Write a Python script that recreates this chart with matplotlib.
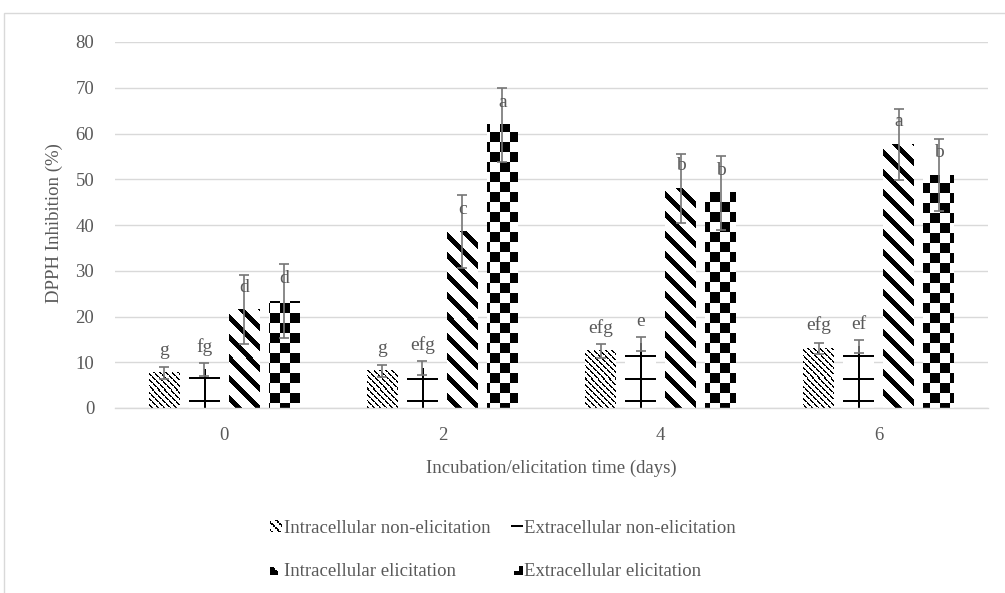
import numpy as np
import matplotlib
matplotlib.use("Agg")
import matplotlib.pyplot as plt
from matplotlib.legend_handler import HandlerBase
from matplotlib.image import BboxImage
from matplotlib.transforms import Bbox, TransformedBbox
from matplotlib.patches import Rectangle, Patch

# data
days = ["0", "2", "4", "6"]
series_names = ["Intracellular non-elicitation", "Extracellular non-elicitation",
                "Intracellular elicitation", "Extracellular elicitation"]

intra_non = [7.7, 8.1, 12.5, 13.0]
intra_non_err = [1.3, 1.3, 1.5, 1.3]
intra_non_lab = ["g", "g", "efg", "efg"]

extra_non = [8.4, 8.7, 14.0, 13.4]
extra_non_err = [1.4, 1.5, 1.6, 1.4]
extra_non_lab = ["fg", "efg", "e", "ef"]

intra_el = [21.5, 38.5, 48.0, 57.6]
intra_el_err = [7.6, 8.0, 7.5, 7.7]
intra_el_lab = ["d", "c", "b", "a"]

extra_el = [23.3, 61.9, 47.0, 50.9]
extra_el_err = [8.1, 8.1, 8.0, 7.9]
extra_el_lab = ["d", "a", "b", "b"]

GRAY_TXT = "#595959"
GRID = "#d9d9d9"
ERR = "#767676"

plt.rcParams["font.family"] = ["Liberation Serif", "DejaVu Serif"]
FS = 13.5


# pixel patterns (X, Y are display pixel coordinates, Y upwards)
def pat_fine(X, Y, xc=0):
    return ((X + Y) % 6 < 2) & ((X - Y) % 8 != 0)


def pat_grid(X, Y, xc=0):
    return ((Y - GRID_Y0) % 22 < 2) | (np.abs(X - xc) < 1)


def pat_stripe(X, Y, xc=0):
    return (X + Y) % 20 < 7


def pat_checker(X, Y, xc=0):
    return (X // 10 + Y // 10) % 2 == 0


patterns = [pat_fine, pat_grid, pat_stripe, pat_checker]


def to_rgba(mask):
    img = np.ones(mask.shape + (4,))
    img[mask, :3] = 0.0
    return img


fig = plt.figure(figsize=(10.05, 5.93), dpi=100)
ax = fig.add_axes([115 / 1005, 1 - 408 / 593, 873 / 1005, 366 / 593])
ax.set_xlim(-0.5, 3.5)
ax.set_ylim(0, 80)

GRID_Y0 = ax.transData.transform((0, 1.2))[1]

values = [intra_non, extra_non, intra_el, extra_el]
errors = [intra_non_err, extra_non_err, intra_el_err, extra_el_err]
labels = [intra_non_lab, extra_non_lab, intra_el_lab, extra_el_lab]

x = np.arange(len(days))
step = 0.183
width = 0.142

for i, (vals, errs, labs) in enumerate(zip(values, errors, labels)):
    xs = x + (i - 1.5) * step
    bars = ax.bar(xs, vals, width, color="white", edgecolor="none", zorder=2)
    for b in bars:
        (px0, py0), (px1, py1) = ax.transData.transform(
            [(b.get_x(), 0), (b.get_x() + b.get_width(), b.get_height())])
        cols = np.arange(int(round(px0)), int(round(px1)))
        rows = np.arange(int(round(py0)), int(round(py1)))
        X, Y = np.meshgrid(cols, rows)
        xc = 0.5 * (px0 + px1)
        img = to_rgba(patterns[i](X, Y, xc))
        ax.imshow(img, extent=(b.get_x(), b.get_x() + b.get_width(), 0, b.get_height()),
                  origin="lower", interpolation="nearest", aspect="auto", zorder=2.5)
    ax.errorbar(xs, vals, yerr=errs, fmt="none", ecolor=ERR, elinewidth=1.2,
                capsize=3.6, capthick=1.2, zorder=3)
    for xi, v, t in zip(xs, vals, labs):
        ax.annotate(t, (xi, v), xytext=(0, 13), textcoords="offset points",
                    ha="center", va="baseline", fontsize=FS + 0.5, color=GRAY_TXT, zorder=4)

ax.set_xlim(-0.5, 3.5)
ax.set_ylim(0, 80)
ax.set_xticks(x)
ax.set_xticklabels(days)
ax.set_yticks(np.arange(0, 81, 10))
ax.yaxis.grid(True, color=GRID, linewidth=1)
ax.set_axisbelow(True)
for s in ["top", "right", "left"]:
    ax.spines[s].set_visible(False)
ax.spines["bottom"].set_color(GRID)
ax.spines["bottom"].set_linewidth(1)
ax.tick_params(length=0, labelsize=FS, labelcolor=GRAY_TXT)
ax.tick_params(axis="x", pad=14)
ax.tick_params(axis="y", pad=15)

ax.set_xlabel("Incubation/elicitation time (days)", fontsize=FS, color=GRAY_TXT, labelpad=11)
fig.text(54 / 1005, 1 - 223 / 593, "DPPH Inhibition (%)", rotation=90, ha="center",
         va="center", fontsize=FS, color=GRAY_TXT)


class PatternHandler(HandlerBase):
    def __init__(self, img):
        super().__init__()
        self.img = img

    def create_artists(self, legend, orig_handle, xdescent, ydescent, width, height,
                       fontsize, trans):
        bb = TransformedBbox(Bbox.from_bounds(-xdescent, -ydescent, width, height), trans)
        im = BboxImage(bb, interpolation="nearest", origin="lower")
        im.set_data(self.img)
        return [im]


# small legend swatches, row 0 at the bottom
gy, gx = np.meshgrid(np.arange(9), np.arange(9), indexing="ij")
handle_imgs = [
    to_rgba(pat_fine(gx, gy)),
    to_rgba(np.abs(gy - 4) < 1),
    to_rgba((gx + gy < 8) & (gx < 6) & (gy < 6)),
    to_rgba(((gy < 3) & (gx > 1)) | ((gx > 5) & (gy < 7))),
]
handles = [Patch(label=n) for n in series_names]
order = [0, 2, 1, 3]
leg = fig.legend([handles[k] for k in order], [series_names[k] for k in order],
                 handler_map={handles[k]: PatternHandler(handle_imgs[k]) for k in range(4)},
                 loc="center", bbox_to_anchor=(503 / 1005, 1 - 550 / 593), ncol=2,
                 frameon=False, fontsize=FS, handlelength=0.6, handleheight=0.6,
                 handletextpad=0.1, columnspacing=1.1, labelspacing=1.4)
for t in leg.get_texts():
    t.set_color(GRAY_TXT)

fig.patches.append(Rectangle((4 / 1005, -0.05), 1.1, 0.05 + 1 - 13 / 593,
                             transform=fig.transFigure, fill=False,
                             edgecolor=GRID, linewidth=1))

fig.savefig("out.png", dpi=100)
